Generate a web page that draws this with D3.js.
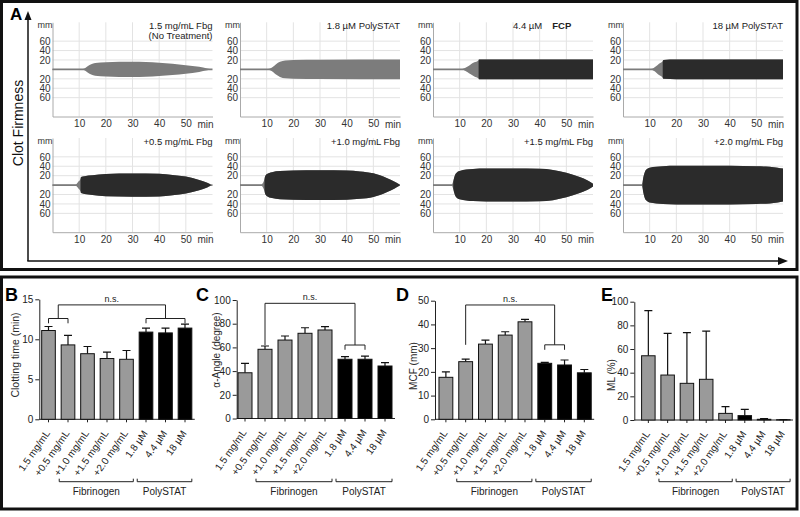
<!DOCTYPE html>
<html><head><meta charset="utf-8">
<script src="https://cdn.jsdelivr.net/npm/d3@7"></script>
<style>body{margin:0;background:#fff}svg{display:block;font-family:"Liberation Sans",Arial,sans-serif}</style>
</head><body><svg id="c" width="800" height="517"></svg>
<script>
// ================= DATA =================
// Panel A: ROTEM traces, [time (min), half amplitude (mm)]
const traceTitles = ["1.5 mg/mL Fbg", "1.8 µM PolySTAT", "4.4 µM", "18 µM PolySTAT",
                     "+0.5 mg/mL Fbg", "+1.0 mg/mL Fbg", "+1.5 mg/mL Fbg", "+2.0 mg/mL Fbg"];
const traceSubtitles = ["(No Treatment)", "", "", "", "", "", "", ""];
const traceBoldTags = ["", "", "FCP", "", "", "", "", ""];
const traceSplit = [null, null, 17.1, 14.9, 10.5, 9.2, 7.6, 7.3]; // min where trace turns dark
const trFbg15 = [[0,1],[11.3,1],[12.3,3],[13.3,7],[14.5,11],[16,13.5],[20,15],[25,16],[30,16],[35,15.5],[40,14],[45,12],[50,9],[55,5.5],[58,2],[59,1]];
const trPs18a = [[0,1],[10.5,1],[11.5,2.5],[12.5,6],[13.5,11],[15,16],[17,19],[20,20],[30,20.5],[60,21]];
const trFcp44 = [[0,1],[11,1],[12,3],[13,6],[14,10],[15.5,15],[17,19],[17.2,21],[30,21],[60,21]];
const trPs18 = [[0,1],[10.5,1],[11.5,3],[12.5,7],[13.5,12],[14.8,17],[15.2,20],[20,21],[60,21]];
const trFbg05 = [[0,1],[8.6,1],[9.1,3],[9.8,8],[10.4,12],[10.7,17],[12,19],[15,21],[20,23.5],[30,24.5],[40,24],[45,21.5],[50,18],[55,11],[58,5],[59.3,1.5]];
const trFbg10 = [[0,1],[8,1],[8.5,4],[9,10],[9.4,18],[10,23],[12,27.5],[15,30],[20,31],[30,31.5],[40,31],[45,29],[50,25],[55,15],[58,7],[59.8,1.5]];
const trFbg15b = [[0,1],[7,1],[7.4,5],[7.9,15],[8.5,24],[10,30],[15,34],[20,35],[30,35],[40,34.5],[45,32],[50,26],[55,17],[58,10],[60,3]];
const trFbg20 = [[0,1],[7,1],[7.3,6],[7.7,18],[8.2,28],[9,34],[10,37],[15,40],[20,41],[40,41],[50,40],[55,39],[58,37],[60,35]];
const traces = [trFbg15, trPs18a, trFcp44, trPs18, trFbg05, trFbg10, trFbg15b, trFbg20];
const timeTicks = [10, 20, 30, 40, 50];
const ampTicks = [-60, -40, -20, 20, 40, 60];

// Panels B-E
const barCats = ["1.5 mg/mL", "+0.5 mg/mL", "+1.0 mg/mL", "+1.5 mg/mL", "+2.0 mg/mL", "1.8 µM", "4.4 µM", "18 µM"];
const barIsPoly = [false, false, false, false, false, true, true, true];
const groupNames = ["Fibrinogen", "PolySTAT"];
const groupRanges = [[1, 4], [5, 7]];
const clotTime = [11.1, 9.3, 8.2, 7.6, 7.5, 10.9, 10.8, 11.4];
const clotTimeErr = [0.5, 1.2, 0.9, 0.8, 1.1, 0.5, 0.6, 0.5];
const alphaAngle = [38.6, 58.4, 66.2, 71.9, 74.7, 50, 50, 44.3];
const alphaAngleErr = [8, 2.8, 3.4, 4.7, 2.8, 2.2, 2.7, 2.8];
const mcf = [17.7, 24.3, 31.7, 35.5, 41.1, 23.6, 22.9, 19.6];
const mcfErr = [2.3, 1.1, 1.7, 1.4, 1.0, 0.4, 2.1, 1.4];
const mlPct = [54.3, 38, 31, 34.4, 5.6, 3.7, 0.6, 0.2];
const mlPctErr = [38.1, 35.3, 42.8, 40.8, 5.7, 5.3, 0.5, 0.2];
const ticksB = [0, 5, 10, 15];
const ticksC = [0, 20, 40, 60, 80, 100];
const ticksD = [0, 10, 20, 30, 40, 50];
const ticksE = [0, 20, 40, 60, 80, 100];
// significance brackets: left bars, right bars, bracket level, tick-end level, top level
const sigB = {left: [0, 1], right: [5, 7], level: 12.6, tick: 12.0, top: 14.3};
const sigC = {left: [1, 1], right: [5, 6], level: 62, tick: 58, top: 97.2};
const sigD = {left: [1, 1], right: [5, 6], level: 31.4, tick: 29.3, top: 48.2};

// ================= DRAW =================
const svg = d3.select("#c");
const GRAY = "#7c7c7c", DARK = "#2b2b2b";

// frames
svg.append("rect").attr("x", 1.5).attr("y", 1.5).attr("width", 795.5).attr("height", 268)
  .attr("fill", "none").attr("stroke", "#111").attr("stroke-width", 3);
svg.append("rect").attr("x", 1.5).attr("y", 277).attr("width", 795.5).attr("height", 232)
  .attr("fill", "none").attr("stroke", "#111").attr("stroke-width", 3);

// Panel A decorations
svg.append("text").attr("x", 10).attr("y", 20).attr("font-size", 17).attr("font-weight", "bold").text("A");
svg.append("line").attr("x1", 28).attr("y1", 261).attr("x2", 28).attr("y2", 18).attr("stroke", "#111").attr("stroke-width", 1.5);
svg.append("path").attr("d", "M28,11 L24.5,20 L31.5,20 Z").attr("fill", "#111");
svg.append("line").attr("x1", 27.3).attr("y1", 261).attr("x2", 780).attr("y2", 261).attr("stroke", "#111").attr("stroke-width", 1.5);
svg.append("path").attr("d", "M788,261 L778,257 L778,265 Z").attr("fill", "#111");
svg.append("text").attr("transform", "translate(23,123) rotate(-90)").attr("text-anchor", "middle")
  .attr("font-size", 14).attr("fill", "#111").text("Clot Firmness");

const colX0 = [52.5, 240, 433, 623], rowC = [69.3, 185];
const defs = svg.append("defs");
traces.forEach((data, i) => {
  const x0 = colX0[i % 4], cy = rowC[Math.floor(i / 4)];
  const x = d3.scaleLinear().domain([0, 60]).range([x0, x0 + 160]);
  const y = d3.scaleLinear().domain([-100, 100]).range([cy + 47.2, cy - 47]);
  const g = svg.append("g");
  // grid
  g.selectAll(".vg").data(timeTicks).join("line")
    .attr("x1", d => x(d)).attr("x2", d => x(d)).attr("y1", y(100)).attr("y2", y(-100))
    .attr("stroke", "#e3e3e3").attr("stroke-width", 1);
  g.selectAll(".hg").data(ampTicks).join("line")
    .attr("x1", x(0)).attr("x2", x(60)).attr("y1", d => y(d)).attr("y2", d => y(d))
    .attr("stroke", "#e3e3e3").attr("stroke-width", 1);
  // axes
  const ay = g.append("g").attr("transform", `translate(${x0},0)`)
    .call(d3.axisLeft(y).tickValues(ampTicks).tickFormat(d => Math.abs(d)).tickSize(0).tickPadding(2));
  ay.select(".domain").attr("stroke", "#aaa");
  ay.selectAll("text").attr("font-size", 10).attr("fill", "#333").attr("font-family", "Liberation Sans, Arial");
  const ax = g.append("g").attr("transform", `translate(0,${y(-100)})`)
    .call(d3.axisBottom(x).tickValues(timeTicks).tickSize(0).tickPadding(3.5));
  ax.select(".domain").attr("stroke", "#aaa");
  ax.selectAll("text").attr("font-size", 10).attr("fill", "#333").attr("font-family", "Liberation Sans, Arial");
  g.append("text").attr("x", x(60) + 1).attr("y", y(-100) + 11).attr("text-anchor", "end")
    .attr("font-size", 10).attr("fill", "#333").text("min");
  g.append("text").attr("x", x0).attr("y", y(100) + 5.5).attr("text-anchor", "end")
    .attr("font-size", 9).attr("fill", "#333").text("mm");
  // baseline
  g.append("line").attr("x1", x(0)).attr("x2", x(60)).attr("y1", y(0)).attr("y2", y(0))
    .attr("stroke", GRAY).attr("stroke-width", 1.6);
  const area = d3.area().x(d => x(d[0])).y0(d => y(-d[1])).y1(d => y(d[1])).curve(d3.curveMonotoneX);
  g.append("path").attr("d", area(data)).attr("fill", GRAY);
  if (traceSplit[i] !== null) {
    const id = "clip" + i;
    defs.append("clipPath").attr("id", id).append("rect")
      .attr("x", x(traceSplit[i])).attr("y", y(100)).attr("width", x(60) - x(traceSplit[i]) + 1).attr("height", y(-100) - y(100));
    g.append("path").attr("d", area(data)).attr("fill", DARK).attr("clip-path", `url(#${id})`);
  }
  // title
  const t = g.append("text").attr("font-size", 9.5).attr("fill", "#222").attr("y", cy - 40);
  if (traceBoldTags[i]) {
    t.attr("x", x0 + 80).attr("text-anchor", "start");
    t.append("tspan").text(traceTitles[i]);
    t.append("tspan").attr("dx", 10).attr("font-weight", "bold").text(traceBoldTags[i]);
  } else {
    t.attr("x", x0 + 160).attr("text-anchor", "end").text(traceTitles[i]);
  }
  if (traceSubtitles[i]) {
    g.append("text").attr("font-size", 9.5).attr("fill", "#222").attr("x", x0 + 160).attr("y", cy - 30)
      .attr("text-anchor", "end").text(traceSubtitles[i]);
  }
});

// ===== bar panels =====
const panels = [
  {letter: "B", lx: 5, vals: clotTime, errs: clotTimeErr, ticks: ticksB, dom: [0, 15], axisX: 39.3, band: [38.75, 194.75], yr: [419.3, 299.3], label: "Clotting time (min)", labX: 15, labY: 355, labSize: 10.5, sig: sigB},
  {letter: "C", lx: 196, vals: alphaAngle, errs: alphaAngleErr, ticks: ticksC, dom: [0, 100], axisX: 236.7, band: [235, 395], yr: [418.5, 300], label: "α-Angle (degree)", labX: 216.5, labY: 350, labSize: 10, sig: sigC},
  {letter: "D", lx: 396, vals: mcf, errs: mcfErr, ticks: ticksD, dom: [0, 50], axisX: 435, band: [436, 594.2], yr: [419.3, 300.7], label: "MCF (mm)", labX: 413, labY: 366, labSize: 10, sig: sigD},
  {letter: "E", lx: 601, vals: mlPct, errs: mlPctErr, ticks: ticksE, dom: [0, 100], axisX: 634.3, band: [638.7, 793], yr: [420, 301.7], label: "ML (%)", labX: 611.5, labY: 375, labSize: 10, sig: null}
];

panels.forEach(p => {
  const g = svg.append("g");
  const xb = d3.scaleBand().domain(d3.range(barCats.length)).range(p.band).paddingInner(0.3).paddingOuter(0.15);
  const y = d3.scaleLinear().domain(p.dom).range(p.yr);
  const cx = i => xb(i) + xb.bandwidth() / 2;
  const step = xb.step();
  g.append("text").attr("x", p.lx).attr("y", 301).attr("font-size", 18).attr("font-weight", "bold").text(p.letter);
  // y axis
  const ay = g.append("g").attr("transform", `translate(${p.axisX},0)`)
    .call(d3.axisLeft(y).tickValues(p.ticks).tickSize(4).tickSizeOuter(0).tickPadding(2));
  ay.selectAll("path,line").attr("stroke", "#222");
  ay.selectAll("text").attr("font-size", 10).attr("fill", "#222").attr("font-family", "Liberation Sans, Arial");
  g.append("text").attr("transform", `translate(${p.labX},${p.labY}) rotate(-90)`).attr("text-anchor", "middle")
    .attr("dominant-baseline", "central").attr("font-size", p.labSize).attr("fill", "#2a2a2a").text(p.label);
  // x axis
  g.append("line").attr("x1", p.axisX).attr("x2", p.band[1]).attr("y1", y(0)).attr("y2", y(0)).attr("stroke", "#222");
  g.selectAll(".xt").data(barCats).join("line").attr("x1", (d, i) => cx(i)).attr("x2", (d, i) => cx(i))
    .attr("y1", y(0)).attr("y2", y(0) + 3).attr("stroke", "#222");
  // error bars
  g.selectAll(".eb").data(p.vals).join("path")
    .attr("d", (d, i) => `M${cx(i)},${y(d)}V${y(d + p.errs[i])}M${cx(i) - 4},${y(d + p.errs[i])}H${cx(i) + 4}`)
    .attr("stroke", "#111").attr("stroke-width", 1.2).attr("fill", "none");
  // bars
  g.selectAll(".bar").data(p.vals).join("rect")
    .attr("x", (d, i) => xb(i)).attr("width", xb.bandwidth())
    .attr("y", d => y(d)).attr("height", d => y(0) - y(d))
    .attr("fill", (d, i) => barIsPoly[i] ? "#000" : "#9a9a9a").attr("stroke", "#111").attr("stroke-width", 1);
  // category labels
  g.selectAll(".xl").data(barCats).join("text")
    .attr("transform", (d, i) => `translate(${cx(i) + 2},${y(0) + 14}) rotate(-55)`)
    .attr("text-anchor", "end").attr("font-size", 10).attr("fill", "#222").text(d => d);
  // group brackets
  groupRanges.forEach((r, k) => {
    const x1 = cx(r[0]) - 0.45 * step, x2 = cx(r[1]) + 0.35 * step, yy = 481.7;
    g.append("path").attr("d", `M${x1},${yy - 3}V${yy}H${x2}V${yy - 3}`).attr("fill", "none").attr("stroke", "#222");
    g.append("text").attr("x", (x1 + x2) / 2).attr("y", 495).attr("text-anchor", "middle")
      .attr("font-size", 10).attr("fill", "#222").text(groupNames[k]);
  });
  // significance
  if (p.sig) {
    const s = p.sig;
    const side = r => {
      if (r[0] === r[1]) {
        g.append("line").attr("x1", cx(r[0])).attr("x2", cx(r[0])).attr("y1", y(s.top)).attr("y2", y(s.level)).attr("stroke", "#222");
        return cx(r[0]);
      }
      const a = cx(r[0]), b = cx(r[1]), m = (a + b) / 2;
      g.append("path").attr("d", `M${a},${y(s.tick)}V${y(s.level)}H${b}V${y(s.tick)}M${m},${y(s.level)}V${y(s.top)}`)
        .attr("fill", "none").attr("stroke", "#222");
      return m;
    };
    const mL = side(s.left), mR = side(s.right);
    g.append("line").attr("x1", mL).attr("x2", mR).attr("y1", y(s.top)).attr("y2", y(s.top)).attr("stroke", "#222");
    g.append("text").attr("x", (mL + mR) / 2).attr("y", y(s.top) - 3).attr("text-anchor", "middle")
      .attr("font-size", 9).attr("fill", "#222").text("n.s.");
  }
});
</script></body></html>
